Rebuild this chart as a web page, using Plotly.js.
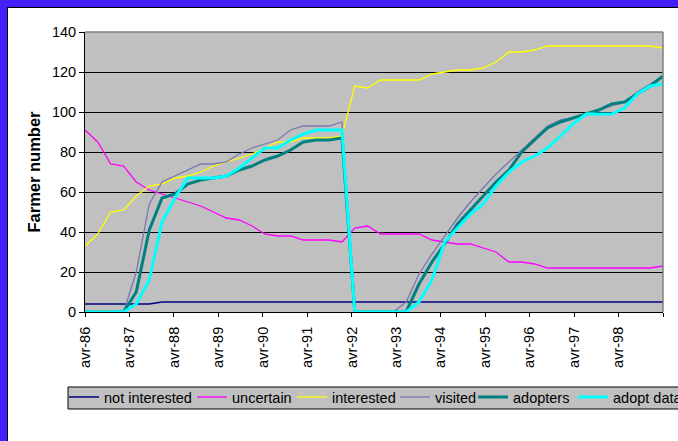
<!DOCTYPE html>
<html><head><meta charset="utf-8">
<script src="https://cdn.plot.ly/plotly-3.0.1.min.js"></script>
<style>
html,body{margin:0;padding:0;width:678px;height:441px;overflow:hidden;background:#4520ff;}
#frame{position:absolute;left:7px;top:7px;width:790px;height:450px;background:#fff;border-left:1px solid #000;border-top:1px solid #000;}
#chart{position:absolute;left:0;top:0;width:760px;height:433px;}
</style></head><body><div id="frame"><div id="chart"></div></div>
<script>
const dates = ["1986-04-01","1986-07-15","1986-10-29","1987-02-12","1987-05-27","1987-09-11","1987-12-25","1988-04-09","1988-07-23","1988-11-07","1989-02-19","1989-06-05","1989-09-19","1990-01-03","1990-04-17","1990-08-01","1990-11-15","1991-02-27","1991-06-13","1991-09-27","1992-01-11","1992-04-25","1992-08-09","1992-11-23","1993-03-07","1993-06-21","1993-10-05","1994-01-19","1994-05-03","1994-08-17","1994-12-01","1995-03-15","1995-06-29","1995-10-13","1996-01-27","1996-05-11","1996-08-25","1996-12-09","1997-03-23","1997-07-07","1997-10-21","1998-02-04","1998-05-19","1998-09-02","1998-12-17","1999-04-01"];

const notInterested = [4,4,4,4,4,4,5,5,5,5,5,5,5,5,5,5,5,5,5,5,5,5,5,5,5,5,5,5,5,5,5,5,5,5,5,5,5,5,5,5,5,5,5,5,5,5];
const uncertain = [91,85,74,73,65,61,59,57,55,53,50,47,46,43,39,38,38,36,36,36,35,42,43,39,39,39,39,36,35,34,34,32,30,25,25,24,22,22,22,22,22,22,22,22,22,23];
const interested = [33,39,50,51,58,63,64,67,68,70,73,75,77,79,82,85,85,87,87,87,88,113,112,116,116,116,116,119,120,121,121,122,125,130,130,131,133,133,133,133,133,133,133,133,133,132];
const visited = [0,0,0,0,20,54,65,68,71,74,74,75,79,82,84,86,91,93,93,93,95,0,0,0,0,5,19,29,38,47,55,62,69,75,81,87,93,96,97,99,101,103,105,110,114,118];
const adopters = [0,0,0,0,10,41,57,59,64,66,67,68,71,73,76,78,81,85,86,86,87,0,0,0,0,0,14,25,34,44,51,58,65,71,80,86,92,95,97,99,101,104,105,109,113,118];
const adoptData = [0,0,0,0,4,16,45,57,67,67,67,68,72,77,82,82,86,89,91,91,91,0,0,0,0,0,5,16,35,42,49,54,63,70,75,78,82,88,94,99,99,99,102,109,113,114];

const tickDates = ["1986-04-01","1987-04-01","1988-04-01","1989-04-01","1990-04-01","1991-04-01","1992-04-01","1993-04-01","1994-04-01","1995-04-01","1996-04-01","1997-04-01","1998-04-01","1999-04-01"];
const tickLabels = ["avr-86","avr-87","avr-88","avr-89","avr-90","avr-91","avr-92","avr-93","avr-94","avr-95","avr-96","avr-97","avr-98",""];

const seriesNames = ["not interested","uncertain","interested","visited","adopters","adopt data"];
const seriesData = [notInterested, uncertain, interested, visited, adopters, adoptData];
const seriesColors = ["#000080","#ff00ff","#ffff00","#7878b0","#008080","#00ffff"];
const seriesWidths = [1.5,1.3,1.3,1.3,3,3];
const legendWidths = [83,55,58,33,55,null];

const traces = seriesNames.map((n,i)=>{
  const t = {type:'scatter', mode:'lines', name:n, x:dates, y:seriesData[i],
    line:{color:seriesColors[i], width:seriesWidths[i]}};
  if (legendWidths[i]) t.legendwidth = legendWidths[i];
  return t;
});

const FONT = 'Liberation Sans, Arial, sans-serif';
const layout = {
  width:760, height:433,
  margin:{l:77, r:105, t:24, b:129},
  paper_bgcolor:'#ffffff', plot_bgcolor:'#c0c0c0',
  font:{family:FONT, size:14.5, color:'#000'},
  showlegend:true,
  xaxis:{type:'date', range:["1986-04-01","1999-04-01"], tickmode:'array', tickvals:tickDates, ticktext:tickLabels,
    tickangle:-90, ticks:'outside', ticklen:4, tickcolor:'#000', showline:true, linecolor:'#000', linewidth:1,
    showgrid:false, zeroline:false, ticklabelstandoff:4, tickfont:{family:FONT, size:14.5}},
  yaxis:{range:[0,140], tickmode:'linear', tick0:0, dtick:20, ticks:'outside', ticklen:5, tickcolor:'#000',
    showline:true, linecolor:'#000', linewidth:1, showgrid:true, gridcolor:'#000', gridwidth:1, zeroline:false,
    tickfont:{family:FONT, size:14.5},
    title:{text:'<b>Farmer number</b>', font:{family:FONT, size:16.5}, standoff:7}},
  legend:{orientation:'h', x:-0.0363, xanchor:'left', y:-0.2466, yanchor:'top', bgcolor:'rgba(0,0,0,0)',
    borderwidth:0, font:{family:FONT, size:14.5}, traceorder:'normal'},
  shapes:[
    {type:'line', xref:'paper', yref:'paper', x0:0, x1:1, y0:1, y1:1, line:{color:'#808080', width:1.5}},
    {type:'line', xref:'paper', yref:'paper', x0:1, x1:1, y0:0, y1:1, line:{color:'#808080', width:1.5}},
    {type:'rect', xref:'paper', yref:'paper', x0:-0.0294, x1:2, y0:-0.3464, y1:-0.2679,
      fillcolor:'#c0c0c0', line:{color:'#000', width:1}}
  ]
};
Plotly.newPlot('chart', traces, layout, {displayModeBar:false, staticPlot:true});
</script></body></html>
